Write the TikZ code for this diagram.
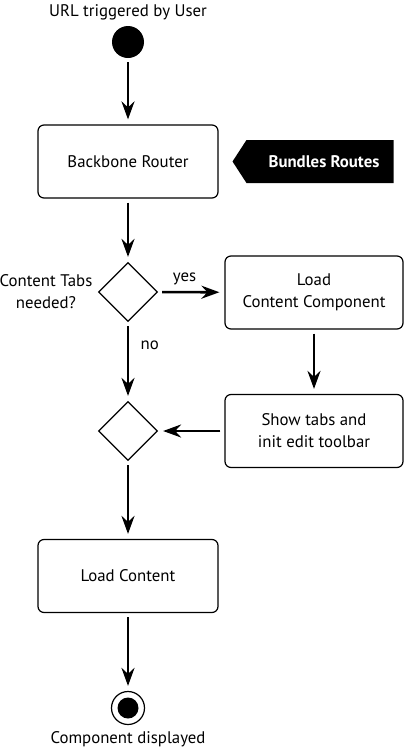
\documentclass[tikz,border=0pt]{standalone}
\usepackage{fontspec}
\setmainfont{PT Sans}
\usetikzlibrary{arrows.meta,shapes.geometric,shapes.symbols}

\begin{document}
\begin{tikzpicture}[x=1pt, y=-1pt,
		every node/.style={font=\fontsize{16.8}{22}\selectfont},
		activity/.style={draw, line width=1.2pt, rounded corners=6pt, minimum width=180pt, minimum height=73pt, align=center},
		decision/.style={draw, diamond, line width=1.2pt, minimum width=59pt, minimum height=59pt, inner sep=0pt},
		flow/.style={line width=2.6pt, -{Stealth[length=18pt, width=13pt, inset=6pt]}, shorten <=4pt, shorten >=5pt},
		tag/.style={signal, signal to=west, signal from=nowhere, signal pointer angle=114, fill=black, text=white, font=\fontsize{16.8}{22}\selectfont\bfseries, minimum width=161pt, minimum height=43pt, inner sep=0pt}]
	\useasboundingbox (0,0) rectangle (405,750);
	% start and end
	\node[circle, fill=black, minimum size=32pt, inner sep=0pt] (start) at (128,42) {};
	\node (starttext) at (128,12) {URL triggered by User};
	\node[circle, draw, line width=1.2pt, minimum size=33pt, inner sep=0pt] (stop) at (128,708) {};
	\node[circle, fill=black, minimum size=21pt, inner sep=0pt] (stopdot) at (128,708) {};
	\node (stoptext) at (128,739) {Component displayed};
	% activities
	\node[activity] (router) at (128,161.5) {Backbone Router};
	\node[tag] (routes) at (320,161.5) {\hspace*{8pt}Bundles Routes};
	\node[decision] (tabs) at (128,292) {};
	\node[align=center] (tabstext) at (46,292) {Content Tabs\\needed?};
	\node[activity, minimum width=178pt] (component) at (314,292.5) {Load\\Content Component};
	\node[activity, minimum width=178pt] (toolbar) at (314,431) {Show tabs and\\init edit toolbar};
	\node[decision] (merge) at (128,431) {};
	\node[activity] (content) at (128,576) {Load Content};
	% transitions
	\draw[flow] (start) -- (router);
	\draw[flow] (router) -- (tabs);
	\draw[flow] (tabs) -- node[above=3pt, pos=0.4] {yes} (component);
	\draw[flow] (tabs) -- node[right=8pt, pos=0.3] {no} (merge);
	\draw[flow] (component) -- (toolbar);
	\draw[flow] (toolbar) -- (merge);
	\draw[flow] (merge) -- (content);
	\draw[flow] (content) -- (stop);
\end{tikzpicture}
\end{document}
